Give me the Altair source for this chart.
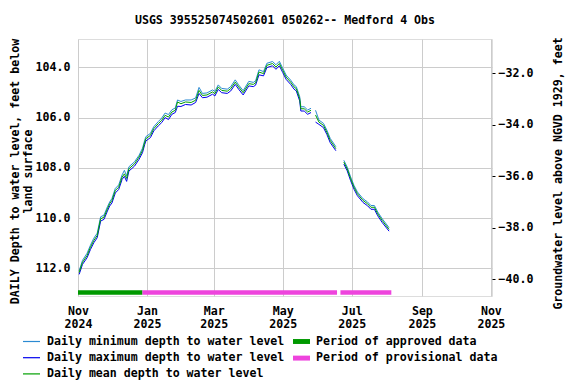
import altair as alt
import pandas as pd

FONT = "DejaVu Sans Mono"

title_text = "USGS 395525074502601 050262-- Medford 4 Obs"

dates = [
    "2024-11-02", "2024-11-05", "2024-11-09", "2024-11-12", "2024-11-15", "2024-11-18", "2024-11-21", "2024-11-24", "2024-11-27", "2024-11-29",
    "2024-12-01", "2024-12-04", "2024-12-07", "2024-12-10", "2024-12-12", "2024-12-14", "2024-12-16", "2024-12-21", "2024-12-25", "2024-12-28", "2024-12-30", "2024-12-31",
    "2025-01-04", "2025-01-07", "2025-01-11", "2025-01-14", "2025-01-17", "2025-01-20", "2025-01-23", "2025-01-26", "2025-01-28", "2025-01-31",
    "2025-02-04", "2025-02-09", "2025-02-13", "2025-02-16", "2025-02-19", "2025-02-23", "2025-02-28",
    "2025-03-02", "2025-03-05", "2025-03-08", "2025-03-13", "2025-03-16", "2025-03-20", "2025-03-23", "2025-03-27",
    "2025-04-01", "2025-04-05", "2025-04-07", "2025-04-10", "2025-04-14", "2025-04-17", "2025-04-22", "2025-04-25", "2025-04-28",
    "2025-05-01", "2025-05-04", "2025-05-08", "2025-05-11", "2025-05-13", "2025-05-16", "2025-05-17", "2025-05-20", "2025-05-23", "2025-05-26",
    "2025-05-30", "2025-06-02", "2025-06-06", "2025-06-09", "2025-06-12", "2025-06-17",
    "2025-06-24", "2025-06-27", "2025-06-30", "2025-07-03", "2025-07-06", "2025-07-11", "2025-07-15", "2025-07-18", "2025-07-21", "2025-07-24", "2025-07-28", "2025-08-03",
]

mean_depth = [
    112.16, 111.76, 111.49, 111.16, 110.89, 110.69, 110.03, 109.96, 109.63, 109.43,
    109.30, 108.90, 108.77, 108.37, 108.24, 108.42, 108.04, 107.84, 107.57, 107.31, 106.98, 106.84,
    106.71, 106.44, 106.24, 106.11, 105.91, 105.98, 105.78, 105.71, 105.38, 105.45,
    105.38, 105.40, 105.31, 104.92, 105.12, 105.10, 104.98,
    105.05, 104.78, 104.92, 104.95, 104.85, 104.59, 104.78, 105.01,
    104.65, 104.68, 104.62, 104.19, 104.25, 103.92, 103.85, 103.99, 103.85,
    104.12, 104.39, 104.59, 104.78, 104.85, 105.25, 105.65, 105.65, 105.78, 105.71,
    105.90, 106.18, 106.31, 106.58, 106.91, 107.24,
    107.77, 108.04, 108.43, 108.77, 109.03, 109.30, 109.43, 109.57, 109.57, 109.83, 110.10, 110.45,
]

min_depth = [
    112.10, 111.68, 111.40, 111.08, 110.80, 110.60, 109.95, 109.88, 109.55, 109.36,
    109.22, 108.82, 108.68, 108.28, 108.10, 108.32, 107.96, 107.76, 107.50, 107.22, 106.90, 106.76,
    106.63, 106.36, 106.16, 106.02, 105.82, 105.88, 105.69, 105.62, 105.30, 105.36,
    105.30, 105.30, 105.22, 104.80, 105.04, 105.02, 104.90,
    104.96, 104.70, 104.84, 104.87, 104.77, 104.50, 104.70, 104.93,
    104.56, 104.60, 104.54, 104.10, 104.17, 103.84, 103.77, 103.90, 103.76,
    104.04, 104.31, 104.51, 104.70, 104.77, 105.17, 105.57, 105.57, 105.70, 105.63,
    105.71, 106.10, 106.23, 106.50, 106.83, 107.16,
    107.70, 107.97, 108.36, 108.70, 108.96, 109.23, 109.36, 109.50, 109.50, 109.76, 110.03, 110.38,
]

max_depth = [
    112.24, 111.84, 111.58, 111.25, 110.98, 110.78, 110.12, 110.05, 109.72, 109.52,
    109.40, 109.00, 108.86, 108.46, 108.34, 108.54, 108.13, 107.93, 107.66, 107.40, 107.07, 106.93,
    106.80, 106.53, 106.33, 106.20, 106.00, 106.08, 105.87, 105.80, 105.55, 105.56,
    105.48, 105.50, 105.40, 105.04, 105.21, 105.19, 105.07,
    105.14, 104.88, 105.01, 105.04, 104.94, 104.68, 104.87, 105.10,
    104.74, 104.77, 104.71, 104.30, 104.34, 104.01, 103.94, 104.08, 103.94,
    104.21, 104.48, 104.68, 104.87, 104.94, 105.34, 105.74, 105.74, 105.87, 105.80,
    106.18, 106.27, 106.40, 106.67, 107.00, 107.32,
    107.85, 108.12, 108.51, 108.85, 109.11, 109.38, 109.51, 109.65, 109.65, 109.91, 110.18, 110.52,
]

# first date of each continuous record segment
segment_starts = ["2024-11-02", "2025-05-30", "2025-06-24"]

series_names = [
    "Daily minimum depth to water level",
    "Daily maximum depth to water level",
    "Daily mean depth to water level",
]
series_colors = ["#2b8ad2", "#0000ee", "#00a000"]

period_names = ["Period of approved data", "Period of provisional data"]
period_colors = ["#009900", "#ee44dd"]
period_start = ["2024-11-01", "2024-12-28", "2025-06-21"]
period_end = ["2024-12-28", "2025-06-18", "2025-08-05"]
period_kind = [period_names[0], period_names[1], period_names[1]]
period_top = 112.87
period_bottom = 113.05

left_ticks = [104, 106, 108, 110, 112]
right_ticks = [-32, -34, -36, -38, -40]
x_ticks = ["2024-11-01", "2025-01-01", "2025-03-01", "2025-05-01", "2025-07-01", "2025-09-01", "2025-11-01"]

left_domain = [102.874, 113.10]
right_domain = [-40.66, -30.665]
x_domain = ["2024-11-01", "2025-11-02"]

# ---- tables ----
rows = []
for name, vals in zip(series_names, [min_depth, max_depth, mean_depth]):
    for d, v in zip(dates, vals):
        seg = sum(1 for s in segment_starts if d >= s)
        rows.append({"date": d, "depth": v, "series": name, "seg": seg})
lines_df = pd.DataFrame(rows)

periods_df = pd.DataFrame({
    "start": period_start, "end": period_end, "period": period_kind,
    "top": [period_top] * len(period_start),
    "bottom": [period_bottom] * len(period_start),
})

right_df = pd.DataFrame({"date": [x_ticks[0]] * len(right_ticks), "level": right_ticks})

xscale = alt.Scale(type="utc", domain=x_domain)
yscale = alt.Scale(domain=left_domain, reverse=True, nice=False, zero=False)

x_axis = alt.Axis(
    values=x_ticks, title=None, ticks=False, domain=False, grid=True,
    gridColor="#cccccc", gridWidth=1,
    labelExpr="[utcFormat(datum.value, '%b'), utcFormat(datum.value, '%Y')]",
    labelFont=FONT, labelFontSize=11.6, labelFontWeight="bold", labelColor="black",
    labelLineHeight=13, labelPadding=9, labelFlush=False, labelOverlap=False,
)

y_axis = alt.Axis(
    values=left_ticks, format=".1f", ticks=False, domain=False, grid=True,
    gridColor="#cccccc", gridWidth=1,
    labelFont=FONT, labelFontSize=11.6, labelFontWeight="bold", labelColor="black",
    labelPadding=8,
    title=["DAILY Depth to water level, feet below", "land surface"],
    titleFont=FONT, titleFontSize=11.6, titleFontWeight="bold", titleColor="black",
    titleAngle=-90, titleBaseline="middle", titleX=-63, titleY=132, titleLineHeight=13,
)

legend_common = dict(
    orient="none", title=None, symbolSize=289,
    labelFont=FONT, labelFontSize=11.6, labelFontWeight="bold", labelColor="black",
    labelOffset=6, direction="vertical", labelLimit=400, padding=0,
)

base_lines = alt.Chart(lines_df)
line_layers = []
for name in series_names:
    line_layers.append(
        base_lines.transform_filter(alt.datum.series == name).mark_line(strokeWidth=1).encode(
            x=alt.X("date:T", scale=xscale, axis=x_axis),
            y=alt.Y("depth:Q", scale=yscale, axis=y_axis),
            color=alt.Color(
                "series:N",
                scale=alt.Scale(domain=series_names, range=series_colors),
                legend=alt.Legend(legendX=-56, legendY=293, symbolType="stroke",
                                  symbolStrokeWidth=1.2, rowPadding=0.2, **legend_common),
            ),
            detail="seg:N",
        )
    )

periods = alt.Chart(periods_df).mark_rect(strokeWidth=0).encode(
    x=alt.X("start:T", scale=xscale),
    x2="end:T",
    y=alt.Y("top:Q", scale=yscale),
    y2="bottom:Q",
    fill=alt.Fill(
        "period:N",
        scale=alt.Scale(domain=period_names, range=period_colors),
        legend=alt.Legend(legendX=215, legendY=294, symbolType="M-1,-0.29H1V0.29H-1Z",
                          symbolStrokeWidth=0, symbolOpacity=1, rowPadding=1.6,
                          **legend_common),
    ),
)

left_layer = alt.layer(*line_layers, periods)

right_layer = alt.Chart(right_df).mark_point(opacity=0).encode(
    x=alt.X("date:T", scale=xscale),
    y=alt.Y(
        "level:Q",
        scale=alt.Scale(domain=right_domain, nice=False, zero=False),
        axis=alt.Axis(
            orient="right", values=right_ticks, format=".1f", grid=False, domain=False,
            ticks=True, tickSize=3, tickColor="black", labelPadding=3,
            labelFont=FONT, labelFontSize=11.6, labelFontWeight="bold", labelColor="black",
            title="Groundwater level above NGVD 1929, feet",
            titleFont=FONT, titleFontSize=11.6, titleFontWeight="bold", titleColor="black",
            titleAngle=-90, titleBaseline="middle", titleX=66, titleY=134,
        ),
    ),
)

chart = alt.layer(left_layer, right_layer).resolve_scale(y="independent").properties(
    width=414, height=257,
    autosize=alt.AutoSizeParams(type="none"),
    padding={"left": 70, "top": 31, "right": 76, "bottom": 85},
    title=alt.TitleParams(
        title_text, font=FONT, fontSize=11.6, fontWeight="bold", color="black",
        anchor="middle", offset=10,
    ),
).configure_view(stroke="black", strokeWidth=1.5).configure(background="white")

chart.save("out.html", embed_options={"renderer": "svg", "actions": False})
